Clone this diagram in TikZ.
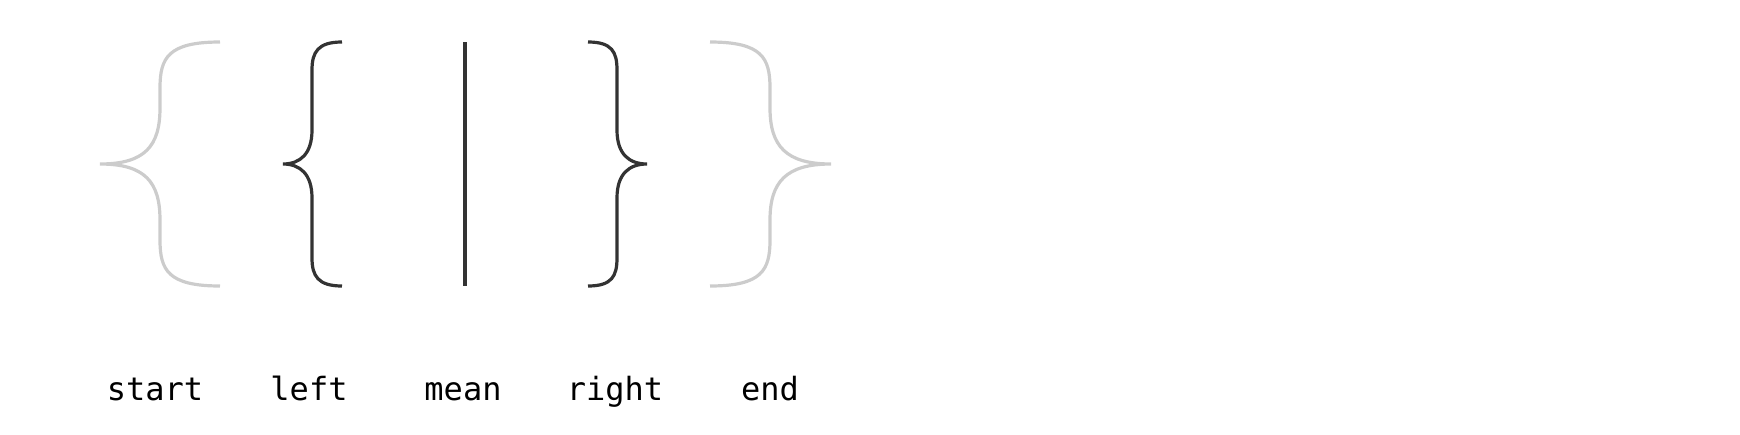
\documentclass[tikz,border=0pt]{standalone}
\usepackage{fontspec}
\newfontfamily\labelfont{DejaVu Sans Mono}
\usetikzlibrary{positioning}
\definecolor{bracelight}{HTML}{CCCCCC}
\definecolor{bracedark}{HTML}{333333}
\tikzset{
    bracel/.style = {line width=1.6pt, draw=bracelight},
    braced/.style = {line width=1.6pt, draw=bracedark},
    meanline/.style = {line width=1.6pt, draw=bracedark},
    labeln/.style = {anchor=base, inner sep=0pt, font=\labelfont\fontsize{16}{19}\selectfont, text=black}
}
\begin{document}
\begin{tikzpicture}[x=0.5pt,y=-0.5pt]
\path[use as bounding box] (0,0) rectangle (1740,434);
% start
\draw[bracel] (220,42) .. controls (168,42) and (160,58) .. (160,88) -- (160,108)
    .. controls (160,146) and (145,164) .. (100,164)
    .. controls (145,164) and (160,182) .. (160,220) -- (160,240)
    .. controls (160,270) and (168,286) .. (220,286);
% left
\draw[braced] (342,42) .. controls (318,42) and (312,52) .. (312,70) -- (312,130)
    .. controls (312,154) and (300,164) .. (283,164)
    .. controls (300,164) and (312,174) .. (312,198) -- (312,258)
    .. controls (312,276) and (318,286) .. (342,286);
% mean
\coordinate (mtop) at (465,42);
\coordinate (mbot) at (465,286);
\draw[meanline] (mtop) -- (mbot);
% right
\draw[braced] (588,42) .. controls (612,42) and (617,52) .. (617,70) -- (617,130)
    .. controls (617,154) and (629,164) .. (647,164)
    .. controls (629,164) and (617,174) .. (617,198) -- (617,258)
    .. controls (617,276) and (612,286) .. (588,286);
% end
\draw[bracel] (710,42) .. controls (762,42) and (770,58) .. (770,88) -- (770,108)
    .. controls (770,146) and (786,164) .. (831,164)
    .. controls (786,164) and (770,182) .. (770,220) -- (770,240)
    .. controls (770,270) and (762,286) .. (710,286);
%
\node[labeln] at (155,400) (start) {start};
\node[labeln] at (309,400) (left) {left};
\node[labeln] at (463,400) (mean) {mean};
\node[labeln] at (615,400) (right) {right};
\node[labeln] at (770,400) (end) {end};
\end{tikzpicture}
\end{document}
